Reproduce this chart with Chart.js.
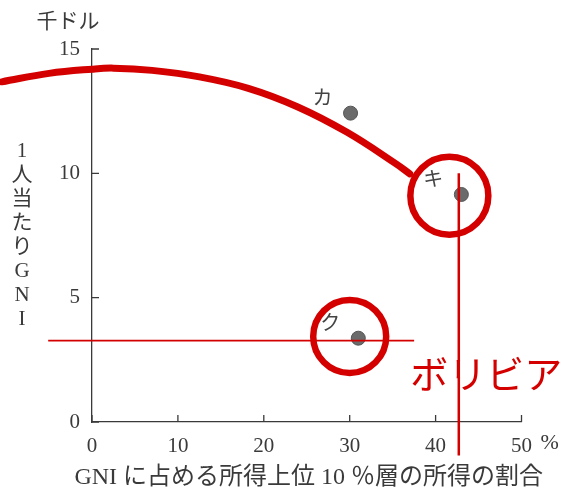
<!DOCTYPE html>
<html>
<head>
<meta charset="utf-8">
<script src="https://cdn.jsdelivr.net/npm/chart.js@4"></script>
<style>
  html, body { margin: 0; padding: 0; background: #fff; }
  #wrap { width: 567px; height: 492px; }
</style>
</head>
<body>
<div id="wrap"><canvas id="myCanvas"></canvas></div>
<script>
// values
var countries = ['カ', 'キ', 'ク'];
var shareTop10 = [30.1, 43.0, 31.0];      // % of GNI going to top 10 %
var gniPerCapita = [12.42, 9.15, 3.37];   // thousand dollars

// hand drawn red curve
var curveShare = [-10.5, -5, 0, 2.5, 7, 12.5, 18.2, 23.9, 29.7, 35.4, 37.0];
var curveGni = [13.68, 14.02, 14.19, 14.23, 14.14, 13.88, 13.42, 12.68, 11.65, 10.38, 9.98];

// red circles round キ and ク
var circleShare = [41.6, 30.0];
var circleGni = [9.10, 3.44];

// red guide lines for ボリビア
var vLineShare = [42.7, 42.7];
var vLineGni = [10.0, -1.35];
var hLineShare = [-5.1, 37.5];
var hLineGni = [3.27, 3.27];
var noteLabel = 'ボリビア';
var notePos = [45.9, 1.94];

var xTicks = [0, 10, 20, 30, 40, 50];
var yTicks = [0, 5, 10, 15];
var yUnit = '千ドル';
var yTitle = ['1', '人', '当', 'た', 'り', 'G', 'N', 'I'];
var xTitle = 'GNI に占める所得上位 10 ％層の所得の割合';

var RED = '#d40000';
var INK = '#3a3a3a';
var FONT = "'Liberation Serif', 'Noto Sans CJK JP', serif";
var SANS = "'Noto Sans CJK JP', sans-serif";

function pts(xs, ys) {
    return xs.map(function (x, i) { return {x: x, y: ys[i]}; });
}

var extras = {
    id: 'extras',
    afterDraw: function (chart) {
        var ctx = chart.ctx;
        var xs = chart.scales.x, ys = chart.scales.y;
        var area = chart.chartArea;
        ctx.save();
        // inward tick marks
        ctx.strokeStyle = INK;
        ctx.lineWidth = 1.3;
        ctx.beginPath();
        xTicks.forEach(function (v) {
            var px = xs.getPixelForValue(v);
            ctx.moveTo(px, area.bottom);
            ctx.lineTo(px, area.bottom - 7);
        });
        yTicks.forEach(function (v) {
            var py = ys.getPixelForValue(v);
            ctx.moveTo(area.left, py);
            ctx.lineTo(area.left + 7, py);
        });
        ctx.stroke();

        // % after the 50 label
        ctx.fillStyle = INK;
        ctx.font = '22px ' + FONT;
        ctx.textAlign = 'left';
        ctx.textBaseline = 'middle';
        ctx.fillText('%', xs.getPixelForValue(50) + 19, area.bottom + 21);

        // x title
        ctx.textAlign = 'center';
        ctx.font = '24px ' + FONT;
        ctx.fillText(xTitle, (area.left + area.right) / 2 + 2, area.bottom + 56);

        // unit on top of y axis
        ctx.font = '21px ' + FONT;
        ctx.fillText(yUnit, 68, 22);

        // stacked y title
        var step = 24;
        var y0 = (area.top + area.bottom) / 2 - (yTitle.length - 1) * step / 2;
        yTitle.forEach(function (c, i) {
            ctx.fillText(c, 22, y0 + i * step);
        });

        // point labels
        ctx.font = '20px ' + SANS;
        ctx.fillStyle = '#444';
        countries.forEach(function (c, i) {
            var px = xs.getPixelForValue(shareTop10[i]);
            var py = ys.getPixelForValue(gniPerCapita[i]);
            ctx.fillText(c, px - 28, py - 16);
        });

        // red note
        ctx.font = '38px ' + SANS;
        ctx.fillStyle = RED;
        ctx.fillText(noteLabel, xs.getPixelForValue(notePos[0]), ys.getPixelForValue(notePos[1]));
        ctx.restore();
    }
};

new Chart(document.getElementById('myCanvas'), {
    type: 'scatter',
    data: {
        datasets: [
            {
                // reversed so chart.js does not drop the points left of x = 0
                data: pts(curveShare, curveGni).reverse(),
                showLine: true,
                borderColor: RED,
                borderWidth: 7,
                pointRadius: 0,
                tension: 0.4,
                borderCapStyle: 'round',
                clip: false
            },
            {
                data: pts(vLineShare, vLineGni),
                showLine: true,
                borderColor: RED,
                borderWidth: 2.5,
                pointRadius: 0,
                clip: false
            },
            {
                data: pts(hLineShare, hLineGni),
                showLine: true,
                borderColor: RED,
                borderWidth: 1.8,
                pointRadius: 0,
                clip: false
            },
            {
                data: pts(shareTop10, gniPerCapita),
                pointRadius: 7,
                backgroundColor: '#6b6b6b',
                borderColor: '#555',
                borderWidth: 1
            },
            {
                data: pts(circleShare, circleGni),
                pointRadius: [39, 36.5],
                backgroundColor: 'rgba(0,0,0,0)',
                borderColor: RED,
                borderWidth: 6.5,
                clip: false
            }
        ]
    },
    options: {
        responsive: true,
        maintainAspectRatio: false,
        animation: false,
        events: [],
        layout: {padding: {top: 49, right: 40, left: 0, bottom: 0}},
        plugins: {
            legend: {display: false},
            tooltip: {enabled: false}
        },
        scales: {
            x: {
                type: 'linear',
                min: 0,
                max: 50,
                afterBuildTicks: function (s) { s.ticks = xTicks.map(function (v) { return {value: v}; }); },
                afterFit: function (s) { s.height = 70; },
                grid: {display: false},
                border: {color: INK, width: 1.3},
                ticks: {color: INK, padding: 4, font: {family: FONT, size: 21}, maxRotation: 0}
            },
            y: {
                type: 'linear',
                min: 0,
                max: 15,
                afterBuildTicks: function (s) { s.ticks = yTicks.map(function (v) { return {value: v}; }); },
                afterFit: function (s) { s.width = 92; },
                grid: {display: false},
                border: {color: INK, width: 1.3},
                ticks: {color: INK, padding: 4, font: {family: FONT, size: 21}}
            }
        }
    },
    plugins: [extras]
});
</script>
</body>
</html>
